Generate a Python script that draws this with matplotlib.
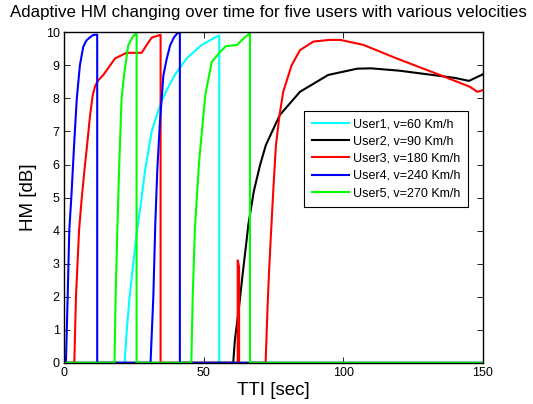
import matplotlib
matplotlib.use('Agg')
import matplotlib.pyplot as plt

plt.rcParams['font.family'] = ['Liberation Sans', 'DejaVu Sans']

# HM traces per user (TTI, HM in dB)
tti_user1 = [0, 21.7, 22.5, 23.5, 24.8, 26.0, 27.5, 29.0, 31.4, 34.6, 36.8, 39.7, 43.9, 49.3, 54.7, 55.6, 55.6, 150]
hm_user1 = [0, 0, 1.0, 2.0, 3.0, 3.9, 4.8, 5.8, 7.0, 7.85, 8.25, 8.71, 9.21, 9.62, 9.87, 9.9, 0, 0]

tti_user2 = [0, 60.6, 61.2, 62.7, 64.0, 65.4, 66.0, 68.0, 70.2, 72.3, 77.3, 84.5, 94.6, 105.0, 110.0,
             120.0, 131.0, 140.0, 145.0, 150.0]
hm_user2 = [0, 0, 0.69, 1.7, 2.7, 3.71, 4.17, 5.2, 5.98, 6.59, 7.5, 8.2, 8.71, 8.9, 8.91,
            8.84, 8.72, 8.62, 8.53, 8.73]

tti_user3 = [0, 3.7, 4.3, 5.4, 6.3, 7.3, 8.3, 9.3, 10.3, 11.2, 12.3, 14.1, 18.3, 22.4, 27.8, 29.5, 31.4,
             34.4, 34.6, 34.6, 62.2, 62.2, 62.7, 62.7, 72.2, 72.9, 73.4, 74.0, 75.0, 75.9, 77.2,
             78.5, 81.5, 84.5, 89.3, 95.0, 99.0, 107.2, 119.1, 134.6, 145.4, 148.0, 150.0]
hm_user3 = [0, 0, 2.0, 4.0, 4.92, 5.8, 6.6, 7.45, 8.1, 8.38, 8.55, 8.71, 9.21, 9.38, 9.38, 9.6, 9.84,
            9.92, 9.92, 0, 0, 3.1, 2.9, 0, 0, 1.7, 2.7, 3.71, 5.3, 6.59, 7.5,
            8.2, 9.0, 9.46, 9.72, 9.77, 9.77, 9.62, 9.21, 8.71, 8.35, 8.2, 8.25]

tti_user4 = [0, 0.7, 1.3, 1.9, 2.7, 3.7, 4.6, 5.7, 6.9, 8.0, 9.3, 10.5, 11.9, 11.9,
             31.0, 32.0, 32.7, 33.4, 34.3, 35.6, 36.8, 38.0, 39.4, 40.6, 41.5, 41.5, 150]
hm_user4 = [0, 0, 1.9, 4.0, 5.1, 6.7, 8.0, 9.0, 9.56, 9.75, 9.85, 9.92, 9.93, 0,
            0, 2.0, 4.2, 5.8, 7.2, 8.7, 9.2, 9.6, 9.85, 9.97, 10.0, 0, 0]

tti_user5 = [0, 18.1, 18.5, 19.1, 19.8, 20.6, 21.5, 23.0, 24.5, 25.8, 26.0, 26.0,
             45.6, 46.1, 46.9, 48.4, 50.6, 52.9, 55.9, 58.0, 62.0, 63.5, 65.5, 66.6, 66.6, 150]
hm_user5 = [0, 0, 2.0, 4.0, 6.0, 7.95, 8.7, 9.6, 9.85, 9.97, 9.97, 0,
            0, 2.0, 4.1, 6.1, 8.1, 9.1, 9.41, 9.58, 9.62, 9.75, 9.9, 9.97, 0, 0]

labels = ['User1, v=60 Km/h', 'User2, v=90 Km/h', 'User3, v=180 Km/h',
          'User4, v=240 Km/h', 'User5, v=270 Km/h']
colors = ['#00ffff', '#000000', '#ff0000', '#0000ff', '#00ff00']

fig = plt.figure(figsize=(5.33, 4.04), dpi=100)
ax = fig.add_axes([0.120, 0.102, 0.786, 0.818])

series = [(tti_user1, hm_user1), (tti_user2, hm_user2), (tti_user3, hm_user3),
          (tti_user4, hm_user4), (tti_user5, hm_user5)]
for (t, hm), lab, c in zip(series, labels, colors):
    ax.plot(t, hm, color=c, lw=1.5, label=lab)

ax.set_xlim(0, 150)
ax.set_ylim(0, 10)
ax.set_xticks([0, 50, 100, 150])
ax.set_yticks(range(0, 11))
ax.tick_params(direction='in', top=True, right=True, labelsize=9, length=4, width=0.6, pad=3)
for s in ax.spines.values():
    s.set_linewidth(1.0)

ax.set_xlabel('TTI [sec]', fontsize=13.5, labelpad=2)
ax.set_ylabel('HM [dB]', fontsize=13.5, labelpad=6)
fig.text(268 / 533, 1 - 13 / 404, 'Adaptive HM changing over time for five users with various velocities',
         fontsize=12.2, ha='center', va='center')

leg = ax.legend(loc='upper left', bbox_to_anchor=(0.573, 0.763), fontsize=9, fancybox=False,
                edgecolor='black', framealpha=1, handlelength=3.0, handletextpad=0.35,
                labelspacing=0.42, borderpad=0.6, borderaxespad=0)
leg.get_frame().set_linewidth(0.8)

fig.savefig('out.png', dpi=100)
